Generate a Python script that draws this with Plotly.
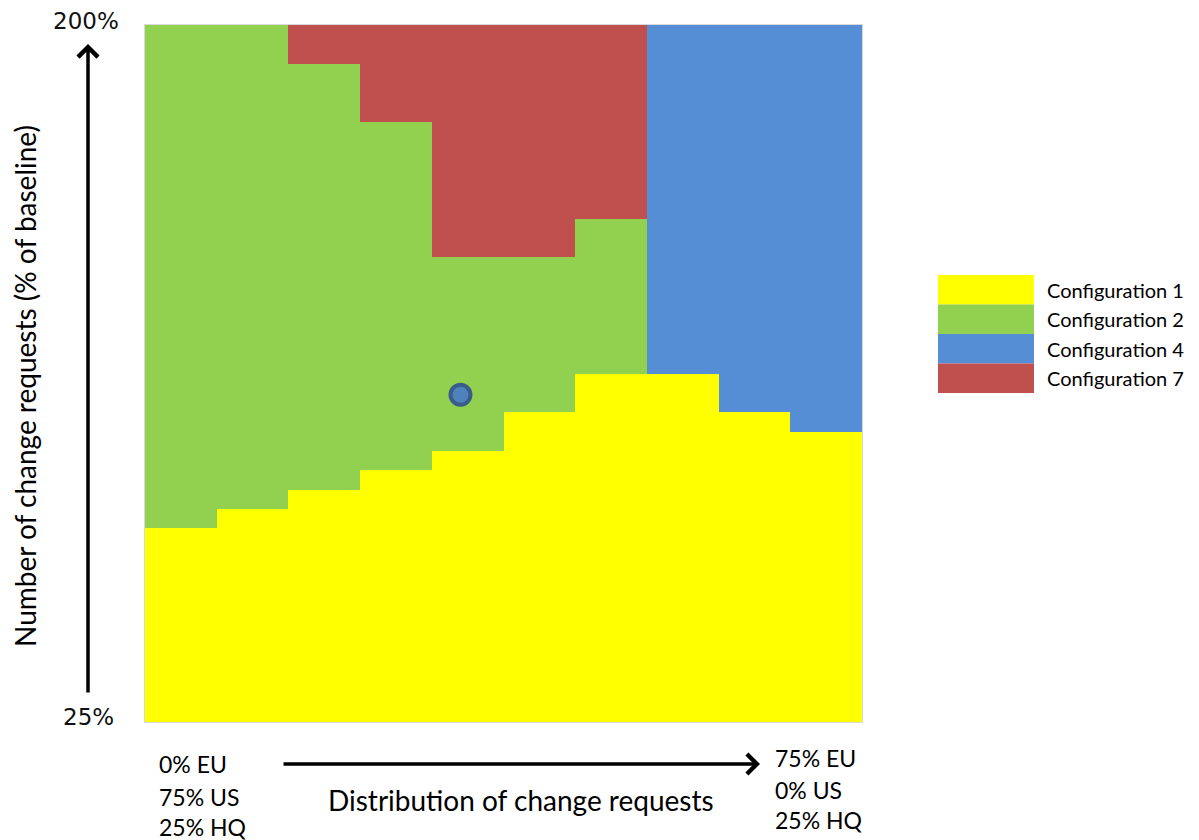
import plotly.graph_objects as go

# ---------------- data ----------------
# Number of change requests (% of baseline), one row per level
cr_levels = [25, 30, 35, 40, 45, 50, 55, 60, 65, 70, 75, 80, 85, 90, 95, 100,
             105, 110, 115, 120, 125, 130, 135, 140, 145, 150, 155, 160, 165,
             170, 175, 180, 185, 190, 195, 200]
# Distribution of change requests: EU share (%) at the centre of each column
eu_share = [3.75, 11.25, 18.75, 26.25, 33.75, 41.25, 48.75, 56.25, 63.75, 71.25]
# highest level (%) that still selects Configuration 1 in each column
config1_upper = [70, 75, 80, 85, 90, 100, 110, 110, 100, 95]
# configuration chosen above the Configuration-1 region
upper_config = [2, 2, 2, 2, 2, 2, 2, 4, 4, 4]
# lowest level (%) where Configuration 7 takes over (None = never)
config7_lower = [None, None, 195, 180, 145, 145, 155, None, None, None]
# current situation marker
current_eu_share = [33]
current_level = [107]

config_names = ["Configuration 1", "Configuration 2", "Configuration 4", "Configuration 7"]
config_ids = [1, 2, 4, 7]
config_colors = ["#FFFF00", "#92D050", "#558ED5", "#C0504D"]

# ---------------- build grid ----------------
z = []
for lev in cr_levels:
    row = []
    for c in range(len(eu_share)):
        if lev <= config1_upper[c]:
            cfg = 1
        elif config7_lower[c] is not None and lev >= config7_lower[c]:
            cfg = 7
        else:
            cfg = upper_config[c]
        row.append(config_ids.index(cfg))
    z.append(row)

n = len(config_colors)
colorscale = []
for i, col in enumerate(config_colors):
    colorscale.append([i / n, col])
    colorscale.append([(i + 1) / n, col])

fig = go.Figure()
fig.add_trace(go.Heatmap(
    x=eu_share, y=cr_levels, z=z,
    colorscale=colorscale, zmin=-0.5, zmax=n - 0.5,
    showscale=False, hoverinfo="skip", xgap=0, ygap=0,
))
fig.add_trace(go.Scatter(
    x=current_eu_share, y=current_level, mode="markers",
    marker=dict(size=20, color="#4F81BD", line=dict(color="#385D8A", width=4)),
    showlegend=False, hoverinfo="skip",
))

# ---------------- layout helpers (pixel -> paper) ----------------
L, R, T, B = 145, 862, 25, 722
def px(x):
    return (x - L) / (R - L)
def py(y):
    return (B - y) / (B - T)

main_font = "Lato, 'Open Sans', sans-serif"
tick_font = "'DejaVu Sans', Verdana, sans-serif"

annotations = []
# y-axis end labels
annotations.append(dict(text="200%", xref="paper", yref="paper", x=px(86), y=py(21),
                        showarrow=False, xanchor="center", yanchor="middle",
                        font=dict(family=tick_font, size=23, color="#111")))
annotations.append(dict(text="25%", xref="paper", yref="paper", x=px(88), y=py(717),
                        showarrow=False, xanchor="center", yanchor="middle",
                        font=dict(family=tick_font, size=23, color="#111")))
# y title
annotations.append(dict(text="Number of change requests (% of baseline)", xref="paper", yref="paper",
                        x=px(25), y=py(386), showarrow=False, textangle=-90,
                        xanchor="center", yanchor="middle",
                        font=dict(family=main_font, size=28, color="#000")))
# vertical arrow
annotations.append(dict(text="", xref="paper", yref="paper", x=px(88), y=py(44),
                        ax=0, ay=694 - 44, showarrow=True, arrowhead=4, arrowsize=1.1,
                        arrowwidth=3.5, arrowcolor="#000"))
# horizontal arrow
annotations.append(dict(text="", xref="paper", yref="paper", x=px(760), y=py(764),
                        ax=282 - 760, ay=0, showarrow=True, arrowhead=4, arrowsize=1.1,
                        arrowwidth=3.5, arrowcolor="#000"))
# x title
annotations.append(dict(text="Distribution of change requests", xref="paper", yref="paper",
                        x=px(521), y=py(800), showarrow=False, xanchor="center", yanchor="middle",
                        font=dict(family=main_font, size=28, color="#000")))
# x end labels
left_lines = ["0% EU", "75% US", "25% HQ"]
left_y = [764, 797, 827]
right_lines = ["75% EU", "0% US", "25% HQ"]
right_y = [758, 790, 820]
for t, yy in zip(left_lines, left_y):
    annotations.append(dict(text=t, xref="paper", yref="paper", x=px(157), y=py(yy),
                            showarrow=False, xanchor="left", yanchor="middle",
                            font=dict(family=main_font, size=23, color="#000")))
for t, yy in zip(right_lines, right_y):
    annotations.append(dict(text=t, xref="paper", yref="paper", x=px(773), y=py(yy),
                            showarrow=False, xanchor="left", yanchor="middle",
                            font=dict(family=main_font, size=23, color="#000")))

# custom legend
shapes = []
row_h = 29.5
for i, (name, col) in enumerate(zip(config_names, config_colors)):
    top = 275 + i * row_h
    shapes.append(dict(type="rect", xref="paper", yref="paper",
                       x0=px(938), x1=px(1034), y0=py(top + row_h), y1=py(top),
                       fillcolor=col, line=dict(width=0)))
    annotations.append(dict(text=name, xref="paper", yref="paper", x=px(1045),
                            y=py(top + row_h / 2), showarrow=False, xanchor="left",
                            yanchor="middle",
                            font=dict(family=main_font, size=20, color="#000")))

fig.update_layout(
    width=1199, height=840,
    margin=dict(l=L, r=1199 - R, t=T, b=840 - B),
    paper_bgcolor="white", plot_bgcolor="white",
    showlegend=False,
    xaxis=dict(range=[0, 75], showticklabels=False, ticks="", showgrid=False, zeroline=False,
               showline=True, mirror=True, linecolor="#D9D9D9", linewidth=1, fixedrange=True),
    yaxis=dict(range=[22.5, 202.5], showticklabels=False, ticks="", showgrid=False, zeroline=False,
               showline=True, mirror=True, linecolor="#D9D9D9", linewidth=1, fixedrange=True),
    annotations=annotations,
    shapes=shapes,
)

fig.write_html("out.html", config={"displayModeBar": False},
               post_script="document.body.style.margin='0px';document.body.style.overflow='hidden';")
